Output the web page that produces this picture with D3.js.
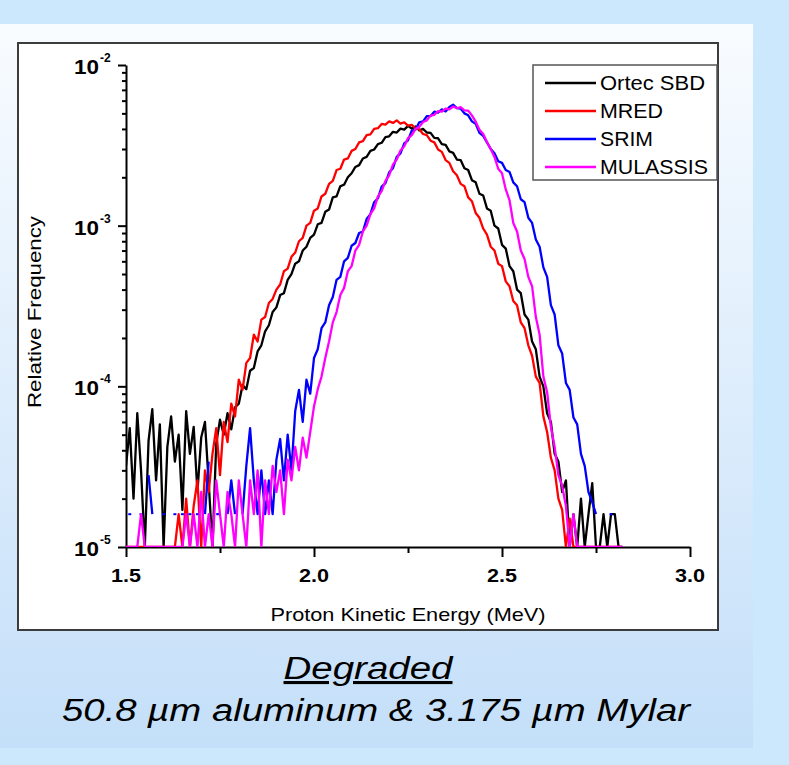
<!DOCTYPE html>
<html>
<head>
<meta charset="utf-8">
<script src="https://cdn.jsdelivr.net/npm/d3@7"></script>
<style>
  body { margin: 0; background: #cbe8fc; }
  svg { display: block; font-family: Arial, "Liberation Sans", sans-serif; }
</style>
</head>
<body>
<div id="wrapper"></div>
<script>
// proton energy bins (MeV), 0.01 MeV wide, 1.50 ... 2.82
const energy = d3.range(133).map((i) => +(1.5 + i * 0.01).toFixed(2));

// relative frequency, in units of 1e-5 (0 = empty bin)
const ortecSBD = [
  3.2, 5.5, 2.0, 6.8, 3.0, 0, 4.6, 7.2, 2.6, 5.8,
  0, 4.2, 6.5, 3.4, 5.0, 1.7, 7.0, 3.8, 5.6, 2.2,
  4.8, 6.0, 2.5, 0, 4.4, 6.2, 5.0, 6.8, 5.4, 7.4,
  7.8, 10.2, 9.6, 12.5, 13.0, 16.5, 18.0, 22, 24, 29,
  31, 37, 38, 46, 50, 58, 60, 70, 74, 84,
  88, 102, 104, 122, 126, 150, 152, 176, 180, 200,
  212, 232, 238, 262, 268, 292, 298, 322, 328, 356,
  360, 384, 380, 402, 396, 418, 402, 414, 392, 400,
  380, 378, 352, 350, 322, 318, 290, 284, 258, 256,
  228, 222, 192, 186, 158, 154, 128, 124, 100, 96,
  76, 72, 56, 52, 40, 38, 28, 26, 19, 17,
  11.5, 10.0, 6.8, 6.0, 3.8, 3.4, 2.2, 2.6, 0, 1.6,
  0, 2.0, 0, 1.6, 2.5, 0, 0, 1.6, 0, 1.6,
  1.6, 0, 0
];
const mred = [
  0, 0, 0, 0, 0, 0, 0, 0, 0, 0,
  0, 0, 0, 0, 1.6, 0, 2.0, 0, 1.8, 2.6,
  0, 3.0, 2.2, 3.8, 5.5, 2.8, 6.0, 4.5, 7.8, 6.5,
  11, 9.5, 14, 15, 21, 19, 26, 27, 33, 35,
  40, 43, 52, 54, 64, 68, 80, 84, 100, 104,
  124, 128, 152, 158, 182, 190, 222, 226, 258, 262,
  292, 300, 330, 336, 366, 370, 400, 404, 430, 426,
  446, 436, 452, 432, 440, 420, 424, 404, 398, 372,
  366, 338, 330, 298, 288, 256, 246, 218, 206, 182,
  176, 150, 142, 120, 112, 96, 88, 74, 70, 58,
  56, 45, 42, 34, 32, 25, 23, 18, 15.5, 11.5,
  10.5, 6.5, 5.2, 3.6, 3.0, 2.0, 1.7, 0, 1.5, 0,
  0, 0, 0, 0, 0, 0, 0, 0, 0, 0,
  0, 0, 0
];
const srim = [
  0, 1.6, 0, 0, 1.6, 0, 2.8, 1.6, 0, 0,
  1.6, 0, 0, 1.6, 0, 1.6, 0, 1.6, 0, 1.6,
  0, 1.6, 3.4, 0, 1.6, 1.6, 0, 1.6, 2.6, 1.6,
  0, 1.6, 3.2, 5.5, 2.6, 1.6, 3.0, 1.6, 2.6, 1.6,
  3.5, 4.7, 2.6, 5.0, 3.0, 7.0, 9.5, 6.0, 11, 9.0,
  15, 17, 23, 25, 32, 36, 46, 48, 60, 63,
  75, 78, 90, 92, 110, 118, 140, 148, 175, 184,
  215, 228, 268, 282, 325, 340, 390, 396, 440, 446,
  480, 482, 512, 506, 530, 514, 548, 566, 540, 536,
  500, 486, 446, 430, 378, 362, 330, 300, 282, 252,
  246, 222, 216, 186, 176, 146, 140, 112, 104, 82,
  74, 55, 48, 32, 28, 18, 16, 10.5, 9.5, 6.4,
  5.8, 3.8, 3.2, 2.2, 1.9, 1.6, 0, 0, 0, 1.6,
  0, 0, 0
];
const mulassis = [
  0, 0, 0, 0, 1.6, 0, 0, 0, 0, 0,
  0, 0, 0, 0, 0, 0, 1.6, 0, 1.6, 0,
  2.2, 0, 1.6, 0, 2.6, 1.6, 0, 2.2, 1.6, 0,
  2.6, 1.6, 0, 2.6, 1.6, 3.0, 0, 2.6, 1.6, 3.2,
  2.2, 3.0, 1.6, 3.5, 2.6, 4.2, 3.0, 4.8, 3.6, 5.2,
  7.5, 9.6, 11.5, 15, 19, 25, 29, 37, 41, 52,
  56, 70, 76, 92, 100, 118, 128, 152, 164, 190,
  206, 240, 258, 294, 312, 350, 366, 400, 412, 442,
  452, 484, 490, 516, 512, 536, 530, 552, 538, 546,
  522, 520, 486, 444, 396, 372, 332, 300, 268, 226,
  212, 168, 144, 104, 92, 70, 62, 48, 42, 27,
  21, 11.5, 9.2, 5.6, 4.2, 2.8, 2.4, 1.8, 0, 1.6,
  0, 0, 0, 0, 0, 0, 0, 0, 0, 0,
  0, 0, 0
];

const seriesNames = ["Ortec SBD", "MRED", "SRIM", "MULASSIS"];
const seriesValues = [ortecSBD, mred, srim, mulassis];
const seriesColors = ["#000000", "#ff0000", "#0000ff", "#ff00ff"];

const xTicks = [1.5, 2.0, 2.5, 3.0];
const xMinorTicks = [1.75, 2.25, 2.75];
const yTicks = [1e-5, 1e-4, 1e-3, 1e-2];

function drawChart() {
  let dimensions = {
    width: 789,
    height: 765,
    margin: { top: 65, right: 99, bottom: 218, left: 126 },
  };
  dimensions.boundedWidth =
    dimensions.width - dimensions.margin.left - dimensions.margin.right;
  dimensions.boundedHeight =
    dimensions.height - dimensions.margin.top - dimensions.margin.bottom;

  const svg = d3
    .select("#wrapper")
    .append("svg")
    .attr("width", dimensions.width)
    .attr("height", dimensions.height);

  // slide background
  const grad = svg.append("defs").append("linearGradient")
    .attr("id", "panelGrad")
    .attr("x1", 0).attr("y1", 0).attr("x2", 0).attr("y2", 1);
  grad.append("stop").attr("offset", "0%").attr("stop-color", "#f9fcff");
  grad.append("stop").attr("offset", "100%").attr("stop-color", "#c4dff9");

  svg.append("rect").attr("width", 789).attr("height", 765).attr("fill", "#cbe8fc");
  svg.append("rect").attr("x", 0).attr("y", 24).attr("width", 753).attr("height", 724)
    .attr("fill", "url(#panelGrad)");

  // chart frame
  svg.append("rect")
    .attr("x", 18).attr("y", 43).attr("width", 700).attr("height", 587)
    .attr("fill", "#ffffff").attr("stroke", "#3c3c3c").attr("stroke-width", 2);

  svg.select("defs").append("clipPath").attr("id", "plotClip")
    .append("rect")
    .attr("x", dimensions.margin.left)
    .attr("y", dimensions.margin.top - 2)
    .attr("width", dimensions.boundedWidth)
    .attr("height", dimensions.boundedHeight + 2);

  const bounds = svg.append("g")
    .attr("transform", `translate(${dimensions.margin.left},${dimensions.margin.top})`);

  const xScale = d3.scaleLinear()
    .domain([1.5, 3.0])
    .range([0, dimensions.boundedWidth]);

  const yScale = d3.scaleLog()
    .domain([1e-5, 1e-2])
    .range([dimensions.boundedHeight, 0]);

  // curves
  const plot = svg.append("g")
    .attr("clip-path", "url(#plotClip)")
    .append("g")
    .attr("transform", `translate(${dimensions.margin.left},${dimensions.margin.top})`);

  seriesValues.forEach((vals, k) => {
    const data = energy.map((e, i) => ({ e: e, v: vals[i] * 1e-5 }));
    const gapped = k === 2; // SRIM: empty bins are left out
    const lineGenerator = d3.line()
      .defined((d) => !gapped || d.v > 0)
      .x((d) => xScale(d.e))
      .y((d) => yScale(Math.max(d.v, 1e-5)));

    plot.append("path")
      .attr("d", lineGenerator(data))
      .attr("fill", "none")
      .attr("stroke", seriesColors[k])
      .attr("stroke-width", 2.3)
      .attr("stroke-linejoin", "round");

    if (gapped) {
      const lonely = data.filter((d, i) =>
        d.v > 0 && !(data[i - 1] && data[i - 1].v > 0) && !(data[i + 1] && data[i + 1].v > 0));
      plot.selectAll(null)
        .data(lonely)
        .enter()
        .append("rect")
        .attr("x", (d) => xScale(d.e) - 1.5)
        .attr("y", (d) => yScale(d.v) - 1)
        .attr("width", 3)
        .attr("height", 2)
        .attr("fill", seriesColors[k]);
    }
  });

  // axes
  const yMinor = [];
  [1e-5, 1e-4, 1e-3].forEach((p) => {
    for (let m = 2; m <= 9; m++) yMinor.push(p * m);
  });

  bounds.append("g")
    .call(d3.axisLeft(yScale).tickValues(yTicks).tickSize(8).tickSizeOuter(0).tickFormat(""));
  bounds.append("g")
    .call(d3.axisLeft(yScale).tickValues(yMinor).tickSize(4).tickSizeOuter(0).tickFormat(""))
    .select(".domain").remove();

  bounds.append("g")
    .attr("transform", `translate(0,${dimensions.boundedHeight})`)
    .call(d3.axisBottom(xScale).tickValues(xTicks).tickSize(10).tickSizeOuter(0).tickFormat(""));
  bounds.append("g")
    .attr("transform", `translate(0,${dimensions.boundedHeight})`)
    .call(d3.axisBottom(xScale).tickValues(xMinorTicks).tickSize(6).tickSizeOuter(0).tickFormat(""))
    .select(".domain").remove();

  bounds.selectAll(".domain, .tick line")
    .attr("stroke", "#000")
    .attr("stroke-width", 2);

  // x tick labels
  bounds.selectAll(".xlab")
    .data(xTicks)
    .enter()
    .append("text")
    .attr("x", (d) => xScale(d))
    .attr("y", dimensions.boundedHeight + 35)
    .attr("text-anchor", "middle")
    .attr("font-size", 19)
    .attr("font-weight", "bold")
    .attr("textLength", 30)
    .attr("lengthAdjust", "spacingAndGlyphs")
    .text((d) => d.toFixed(1));

  // y tick labels 10^n
  bounds.selectAll(".ylab")
    .data(yTicks)
    .enter()
    .append("text")
    .attr("x", -52)
    .attr("y", (d) => yScale(d) + 9)
    .attr("font-size", 20)
    .attr("font-weight", "bold")
    .attr("textLength", 25)
    .attr("lengthAdjust", "spacingAndGlyphs")
    .text("10");
  bounds.selectAll(".yexp")
    .data(yTicks)
    .enter()
    .append("text")
    .attr("x", -26)
    .attr("y", (d) => yScale(d) - 3)
    .attr("font-size", 12)
    .attr("font-weight", "bold")
    .text((d) => Math.round(Math.log10(d)));

  // axis titles
  svg.append("text")
    .attr("x", 408)
    .attr("y", 621)
    .attr("text-anchor", "middle")
    .attr("font-size", 19)
    .attr("textLength", 275)
    .attr("lengthAdjust", "spacingAndGlyphs")
    .text("Proton Kinetic Energy (MeV)");

  svg.append("text")
    .attr("transform", "translate(41,312) rotate(-90)")
    .attr("text-anchor", "middle")
    .attr("font-size", 19)
    .attr("textLength", 192)
    .attr("lengthAdjust", "spacingAndGlyphs")
    .text("Relative Frequency");

  // legend
  const legend = svg.append("g").attr("transform", "translate(533,65)");
  legend.append("rect")
    .attr("width", 184).attr("height", 115)
    .attr("fill", "#fff").attr("stroke", "#555").attr("stroke-width", 1.5);
  const legendWidths = [105, 63, 53, 108];
  seriesNames.forEach((name, k) => {
    const row = legend.append("g").attr("transform", `translate(0,${18 + k * 28})`);
    row.append("line")
      .attr("x1", 12).attr("x2", 63)
      .attr("stroke", seriesColors[k]).attr("stroke-width", 2.5);
    row.append("text")
      .attr("x", 67).attr("y", 7)
      .attr("font-size", 20)
      .attr("textLength", legendWidths[k])
      .attr("lengthAdjust", "spacingAndGlyphs")
      .text(name);
  });

  // caption
  svg.append("text")
    .attr("x", 368).attr("y", 679)
    .attr("text-anchor", "middle")
    .attr("font-size", 31)
    .attr("font-style", "italic")
    .attr("text-decoration", "underline")
    .attr("textLength", 169)
    .attr("lengthAdjust", "spacingAndGlyphs")
    .text("Degraded");
  svg.append("text")
    .attr("x", 376).attr("y", 721)
    .attr("text-anchor", "middle")
    .attr("font-size", 31)
    .attr("font-style", "italic")
    .attr("textLength", 628)
    .attr("lengthAdjust", "spacingAndGlyphs")
    .text("50.8 µm aluminum & 3.175 µm Mylar");
}

drawChart();
</script>
</body>
</html>
